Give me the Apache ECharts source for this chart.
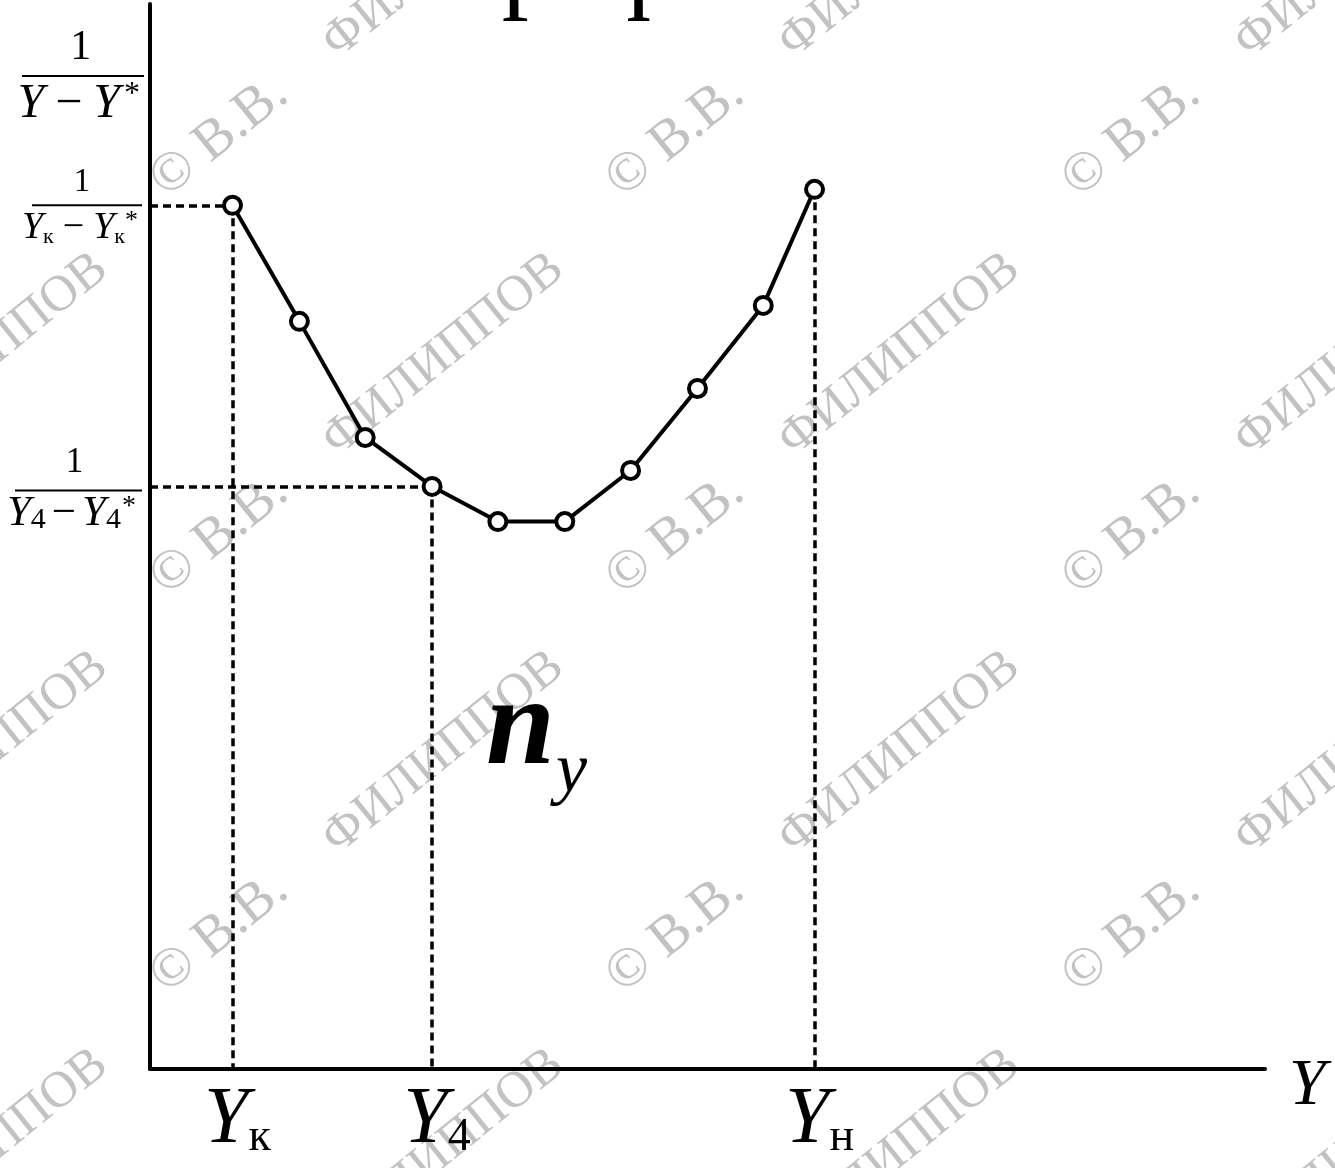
<!DOCTYPE html>
<html>
<head>
<meta charset="utf-8">
<script src="https://cdn.jsdelivr.net/npm/echarts@6/dist/echarts.min.js"></script>
<style>
  html, body { margin: 0; padding: 0; background: #fff; }
  #chart { width: 1335px; height: 1168px; }
</style>
</head>
<body>
<div id="chart"></div>
<script>
// Y at each iteration point (horizontal axis, relative units)
const pointY = [7.4, 13.4, 19.3, 25.3, 31.2, 37.2, 43.1, 49.1, 55.0, 59.6];
// 1/(Y − Y*) at each iteration point (vertical axis, relative units)
const pointInv = [81.1, 70.2, 59.3, 54.7, 51.4, 51.4, 56.2, 63.9, 71.7, 82.6];

// points that get dashed guides and axis labels
const guideIndex = [0, 3, 9];
const guideToYAxis = [true, true, false];

// tick labels: subscripts of Y on the horizontal axis
const xTickSubs = ['к', '4', 'н'];
// tick labels: subscripts in 1/(Y_i − Y_i*) on the vertical axis
const yTickSubs = ['к', '4'];

const titleText = 'График';
const watermarkHead = '© В.В.';
const watermarkName = 'ФИЛИППОВ';

const serif = 'Liberation Serif';

const xTickValues = guideIndex.map(i => pointY[i]);
const yTickValues = guideIndex.filter((i, k) => guideToYAxis[k]).map(i => pointInv[i]);

// rich-text styles for a stacked fraction 1 / (Y_s − Y_s*)
function fracStyles(p, c) {
  const r = {};
  r[p + 'one'] = { fontFamily: serif, fontSize: c.num, lineHeight: c.numLh, width: c.bar, align: 'center', color: '#000' };
  r[p + 'bar'] = { fontSize: 2, width: c.bar, height: 2, lineHeight: 5, backgroundColor: '#000' };
  r[p + 'Y'] = { fontFamily: serif, fontStyle: 'italic', fontSize: c.y, lineHeight: c.denLh, verticalAlign: 'middle', color: '#000' };
  r[p + 'op'] = { fontFamily: serif, fontSize: c.y, lineHeight: c.denLh, verticalAlign: 'middle', color: '#000', padding: [0, c.opPad, 0, c.opPad] };
  r[p + 's'] = { fontFamily: serif, fontSize: c.sub, lineHeight: c.subLh, verticalAlign: 'bottom', color: '#000' };
  r[p + 'st'] = { fontFamily: serif, fontSize: c.star, lineHeight: c.starLh, verticalAlign: 'top', color: '#000', padding: [0, c.padR, 0, c.padL] };
  return r;
}
function fracText(p, sub) {
  const s = sub ? '{' + p + 's|' + sub + '}' : '';
  return '{' + p + 'one|1}\n{' + p + 'bar| }\n{' + p + 'Y|Y}' + s + '{' + p + 'op|−}{' + p + 'Y|Y}' + s + '{' + p + 'st|*}';
}

const yRich = Object.assign({},
  fracStyles('a', { num: 33, numLh: 40, bar: 110, y: 38, denLh: 40, opPad: 9, sub: 22, subLh: 22, star: 26, starLh: 26, padR: 4, padL: 0 }),
  fracStyles('b', { num: 35, numLh: 50, bar: 127, y: 43, denLh: 42, opPad: 6, sub: 30, subLh: 26, star: 28, starLh: 28, padR: 6, padL: 1 })
);
const nameRich = fracStyles('n', { num: 42, numLh: 52, bar: 122, y: 48, denLh: 52, opPad: 11, sub: 24, subLh: 24, star: 32, starLh: 32, padR: 4, padL: 4 });

// copyright pattern across the page
const watermarks = [];
const wmAngle = 38.8 * Math.PI / 180;
const wmDir = [Math.cos(wmAngle), -Math.sin(wmAngle)];
const wmNameOffset = 221;
[-299, 157, 613, 1069].forEach(x => {
  [187, 585, 983, 1381].forEach(y => {
    watermarks.push({
      type: 'text', x: x, y: y, rotation: wmAngle, z: 0, silent: true,
      style: { text: watermarkHead, fill: '#c2c2c2', font: '56px ' + serif, textAlign: 'left', textVerticalAlign: 'middle' }
    });
    watermarks.push({
      type: 'text', x: x + wmNameOffset * wmDir[0], y: y + wmNameOffset * wmDir[1], rotation: wmAngle, z: 0, silent: true,
      style: { text: watermarkName, fill: '#c2c2c2', font: '51px ' + serif, textAlign: 'left', textVerticalAlign: 'middle' }
    });
  });
});

// dashed guides from selected points to the axes
const guides = [];
guideIndex.forEach((i, k) => {
  const x = pointY[i], y = pointInv[i];
  if (guideToYAxis[k]) guides.push([{ coord: [0, y] }, { coord: [x, y] }]);
  guides.push([{ coord: [x, y] }, { coord: [x, 0] }]);
});

const chart = echarts.init(document.getElementById('chart'), null, { renderer: 'canvas' });
chart.setOption({
  animation: false,
  backgroundColor: '#fff',
  grid: { left: 150, right: 70, top: 4, bottom: 99, containLabel: false, outerBoundsMode: 'none' },
  xAxis: {
    type: 'value', min: 0, max: 100, z: 5,
    name: 'Y',
    nameLocation: 'end', nameGap: 24,
    nameTextStyle: { fontFamily: serif, fontStyle: 'italic', fontSize: 66, lineHeight: 36, color: '#000', verticalAlign: 'top' },
    axisLine: { show: true, lineStyle: { color: '#000', width: 4 } },
    axisTick: { show: false },
    splitLine: { show: false },
    axisLabel: {
      customValues: xTickValues,
      margin: 12,
      padding: [0, 0, 0, 10],
      formatter: function (v) {
        const k = xTickValues.indexOf(v);
        return '{Y|Y}{s|' + xTickSubs[k] + '}';
      },
      rich: {
        Y: { fontFamily: serif, fontStyle: 'italic', fontSize: 80, lineHeight: 80, verticalAlign: 'middle', color: '#000' },
        s: { fontFamily: serif, fontSize: 46, lineHeight: 40, verticalAlign: 'bottom', color: '#000' }
      }
    }
  },
  yAxis: {
    type: 'value', min: 0, max: 100, z: 5,
    name: fracText('n', ''),
    nameLocation: 'end', nameGap: -72,
    nameTextStyle: { align: 'right', verticalAlign: 'middle', padding: [0, 6, 0, 0], rich: nameRich },
    axisLine: { show: true, lineStyle: { color: '#000', width: 4 } },
    axisTick: { show: false },
    splitLine: { show: false },
    axisLabel: {
      customValues: yTickValues,
      margin: 8,
      formatter: function (v) {
        const k = yTickValues.indexOf(v);
        return fracText(k === 0 ? 'a' : 'b', yTickSubs[k]);
      },
      rich: yRich
    }
  },
  graphic: watermarks.concat([
    {
      type: 'text', x: 446, y: -30, z: 10, silent: true,
      style: { text: titleText, fill: '#000', font: '108px ' + serif, textAlign: 'left', textVerticalAlign: 'middle' }
    },
    {
      type: 'text', x: 486, y: 731, z: 10, silent: true,
      style: { text: 'n', fill: '#000', font: 'italic bold 124px ' + serif, textAlign: 'left', textVerticalAlign: 'middle' }
    },
    {
      type: 'text', x: 556, y: 773, z: 10, silent: true,
      style: { text: 'y', fill: '#000', font: 'italic 70px ' + serif, textAlign: 'left', textVerticalAlign: 'middle' }
    }
  ]),
  series: [{
    type: 'line',
    z: 6,
    data: pointY.map((x, i) => [x, pointInv[i]]),
    symbol: 'circle',
    symbolSize: 17,
    showSymbol: true,
    lineStyle: { color: '#000', width: 4 },
    itemStyle: { color: '#fff', borderColor: '#000', borderWidth: 4 },
    markLine: {
      silent: true,
      symbol: ['none', 'none'],
      label: { show: false },
      lineStyle: { color: '#000', width: 3.5, type: [8, 5] },
      data: guides,
      z: 4
    }
  }]
});
</script>
</body>
</html>
